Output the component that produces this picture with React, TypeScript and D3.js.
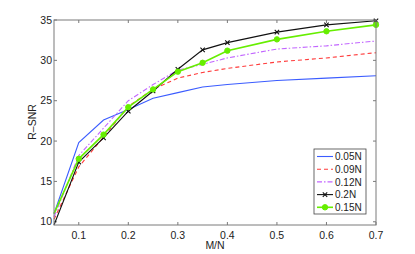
import React from "react";
import * as d3 from "d3";

const xValues = [0.05, 0.1, 0.15, 0.2, 0.25, 0.3, 0.35, 0.4, 0.5, 0.6, 0.7];
const s005 = [11.0, 19.8, 22.6, 23.9, 25.3, 26.0, 26.7, 27.0, 27.5, 27.8, 28.1];
const s009 = [10.3, 16.8, 20.5, 24.3, 26.4, 27.8, 28.5, 29.0, 29.8, 30.3, 30.95];
const s012 = [10.6, 18.2, 21.6, 25.0, 27.0, 28.8, 29.5, 30.3, 31.4, 31.8, 32.4];
const s02 = [9.6, 17.4, 20.4, 23.7, 26.2, 28.9, 31.3, 32.2, 33.5, 34.4, 34.9];
const s015 = [11.0, 17.8, 20.8, 24.2, 26.4, 28.6, 29.7, 31.2, 32.6, 33.6, 34.4];
const seriesNames = ["0.05N", "0.09N", "0.12N", "0.2N", "0.15N"];
const xTicks = [0.1, 0.2, 0.3, 0.4, 0.5, 0.6, 0.7];
const yTicks = [10, 15, 20, 25, 30, 35];

const seriesStyles = [
  { color: "#3b5cff", dash: "", marker: "none", width: 1.1 },
  { color: "#ff3b3b", dash: "4,3", marker: "none", width: 1.1 },
  { color: "#c266ff", dash: "5,2,1.5,2", marker: "none", width: 1.1 },
  { color: "#111111", dash: "", marker: "x", width: 1.1 },
  { color: "#66ee00", dash: "", marker: "o", width: 1.6 },
];

const L = 54, R = 376, T = 20, B = 225;
const FONT = "'Liberation Sans', Arial, sans-serif";

export default function App() {
  const x = d3.scaleLinear().domain([0.05, 0.7]).range([L, R]);
  const y = d3.scaleLinear().domain([9.6, 35]).range([B, T]);
  const data = [s005, s009, s012, s02, s015];
  const line = d3.line<number>().x((_, i) => x(xValues[i])).y((d) => y(d));
  const axisColor = "#7a7a7a";

  const marker = (kind: string, cx: number, cy: number, color: string, key: string) => {
    if (kind === "x") {
      const r = 2.2;
      return (
        <path key={key} d={`M${cx - r},${cy - r}L${cx + r},${cy + r}M${cx - r},${cy + r}L${cx + r},${cy - r}`} stroke={color} strokeWidth={1.1} fill="none" />
      );
    }
    if (kind === "o") {
      return <circle key={key} cx={cx} cy={cy} r={2.7} fill={color} stroke={color} />;
    }
    return null;
  };

  const legX = 314, legY = 149, legW = 52, legH = 65, rowH = 12.7;

  return (
    <svg width={415} height={254} style={{ position: "absolute", left: 0, top: 0 }} fontFamily={FONT}>
      <rect x={0} y={0} width={415} height={254} fill="#fff" />
      {xTicks.map((t) => (
        <g key={"xt" + t}>
          <line x1={x(t)} x2={x(t)} y1={B} y2={B - 3} stroke={axisColor} strokeWidth={1} />
          <line x1={x(t)} x2={x(t)} y1={T} y2={T + 3} stroke={axisColor} strokeWidth={1} />
          <text x={x(t)} y={B + 14} fontSize={10.5} textAnchor="middle" fill="#222">{t.toString()}</text>
        </g>
      ))}
      {yTicks.map((t) => (
        <g key={"yt" + t}>
          <line x1={L} x2={L + 3} y1={y(t)} y2={y(t)} stroke={axisColor} strokeWidth={1} />
          <line x1={R} x2={R - 3} y1={y(t)} y2={y(t)} stroke={axisColor} strokeWidth={1} />
          <text x={L - 2} y={y(t) + 3.7} fontSize={10.5} textAnchor="end" fill="#222">{t}</text>
        </g>
      ))}
      {data.map((vals, si) => {
        const st = seriesStyles[si];
        return (
          <g key={"s" + si}>
            <path d={line(vals) || ""} fill="none" stroke={st.color} strokeWidth={st.width} strokeDasharray={st.dash} />
            {vals.map((v, i) => (i === 0 ? null : marker(st.marker, x(xValues[i]), y(v), st.color, `m${si}-${i}`)))}
          </g>
        );
      })}
      <rect x={L} y={T} width={R - L} height={B - T} fill="none" stroke={axisColor} strokeWidth={1} />
      <text x={215} y={249} fontSize={10.5} textAnchor="middle" fill="#222">M/N</text>
      <text transform={`translate(36,122) rotate(-90)`} fontSize={10.5} textAnchor="middle" fill="#222">R–SNR</text>
      <rect x={legX} y={legY} width={legW} height={legH} fill="#fff" stroke="#444" strokeWidth={0.8} />
      {seriesNames.map((name, i) => {
        const st = seriesStyles[i];
        const cy = legY + 7.5 + i * rowH;
        return (
          <g key={"leg" + i}>
            <line x1={legX + 3} x2={legX + 19} y1={cy} y2={cy} stroke={st.color} strokeWidth={st.width} strokeDasharray={st.dash} />
            {marker(st.marker, legX + 11, cy, st.color, "lm" + i)}
            <text x={legX + 21} y={cy + 3.6} fontSize={10} fill="#222">{name}</text>
          </g>
        );
      })}
    </svg>
  );
}
